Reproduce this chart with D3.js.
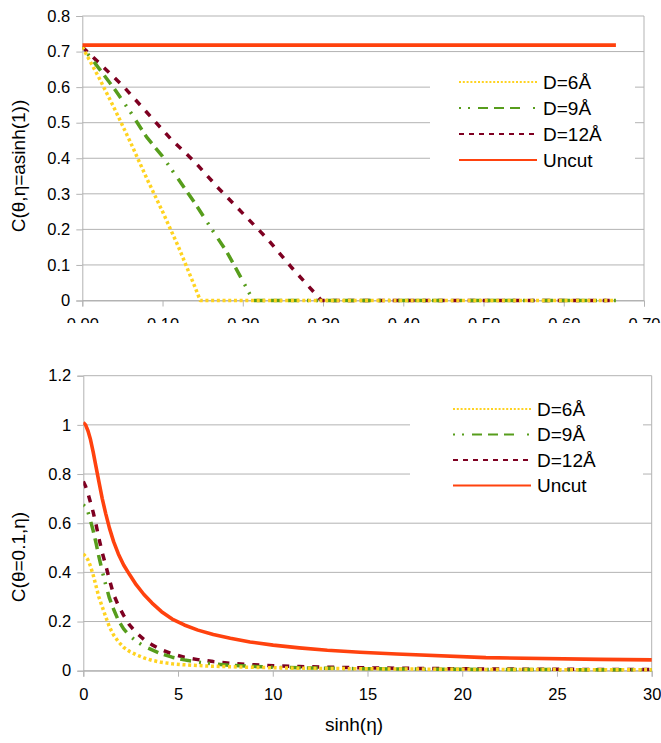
<!DOCTYPE html>
<html>
<head>
<meta charset="utf-8">
<script src="https://cdn.jsdelivr.net/npm/d3@7"></script>
<style>
  body { margin: 0; background: #fff; }
  text { font-family: "Liberation Sans", Arial, sans-serif; fill: #000; }
</style>
</head>
<body>
<script>
// series names and colours (same for both panels)
const names = ["D=6Å", "D=9Å", "D=12Å", "Uncut"];
const colors = ["#ffd320", "#579d1c", "#7e0021", "#ff420e"];

// top panel: C(theta, eta=asinh(1)) against theta
const topD6x  = [0, 0.02, 0.04, 0.06, 0.08, 0.10, 0.12, 0.14, 0.147, 0.665];
const topD6y  = [0.713, 0.63, 0.54, 0.445, 0.345, 0.25, 0.15, 0.04, 0, 0];
const topD9x  = [0, 0.02, 0.04, 0.06, 0.08, 0.10, 0.12, 0.14, 0.16, 0.18, 0.20, 0.213, 0.665];
const topD9y  = [0.713, 0.655, 0.595, 0.53, 0.46, 0.405, 0.34, 0.275, 0.205, 0.137, 0.055, 0, 0];
const topD12x = [0, 0.02, 0.05, 0.08, 0.11, 0.14, 0.17, 0.20, 0.23, 0.26, 0.28, 0.298, 0.665];
const topD12y = [0.713, 0.67, 0.605, 0.53, 0.455, 0.39, 0.315, 0.245, 0.175, 0.095, 0.045, 0, 0];
const topUncutx = [0, 0.665];
const topUncuty = [0.718, 0.718];
const topXTicks = [0, 0.1, 0.2, 0.3, 0.4, 0.5, 0.6, 0.7];
const topYTicks = [0, 0.1, 0.2, 0.3, 0.4, 0.5, 0.6, 0.7, 0.8];

// bottom panel: C(theta=0.1, eta) against sinh(eta)
const botX     = [0, 0.12, 0.25, 0.38, 0.52, 0.67, 0.82, 1.0, 1.18, 1.38, 1.6, 1.85, 2.13, 2.45, 2.79, 3.2,
                  3.63, 4.13, 4.69, 5.33, 6.05, 6.86, 7.76, 8.8, 10.02, 11.4, 12.88, 14.6, 16.54, 21.25, 27.29, 35.03];
const botD6    = [0.475, 0.465, 0.45, 0.425, 0.39, 0.345, 0.30, 0.26, 0.22, 0.178, 0.145, 0.118, 0.095, 0.078, 0.065, 0.052,
                  0.042, 0.034, 0.028, 0.024, 0.021, 0.018, 0.016, 0.014, 0.012, 0.01, 0.009, 0.008, 0.007, 0.005, 0.004, 0.003];
const botD9    = [0.675, 0.665, 0.645, 0.61, 0.57, 0.52, 0.465, 0.405, 0.35, 0.295, 0.25, 0.205, 0.17, 0.142, 0.12, 0.1,
                  0.085, 0.068, 0.055, 0.044, 0.035, 0.028, 0.022, 0.018, 0.014, 0.012, 0.01, 0.008, 0.007, 0.005, 0.004, 0.003];
const botD12   = [0.77, 0.75, 0.72, 0.685, 0.645, 0.595, 0.54, 0.48, 0.43, 0.37, 0.31, 0.265, 0.225, 0.185, 0.155, 0.127,
                  0.105, 0.085, 0.068, 0.055, 0.045, 0.037, 0.03, 0.025, 0.02, 0.017, 0.014, 0.012, 0.01, 0.007, 0.005, 0.004];
const botUncut = [1.01, 1.0, 0.975, 0.94, 0.89, 0.83, 0.77, 0.70, 0.64, 0.58, 0.525, 0.475, 0.43, 0.39, 0.35, 0.31,
                  0.275, 0.24, 0.21, 0.186, 0.165, 0.147, 0.132, 0.117, 0.104, 0.093, 0.083, 0.075, 0.068, 0.053, 0.046, 0.04];
const botXTicks = [0, 5, 10, 15, 20, 25, 30];
const botYTicks = [0, 0.2, 0.4, 0.6, 0.8, 1, 1.2];

// line looks
const lineDash   = ["3,2.7", "2,7,2,8,11,6,11,6,11,8", "7,8", null];
const legendDash = ["2,1.8", "2,7,2,8,10,6,10,6,10,13", "5,5", null];
const grid = "#b3b3b3";

const svg = d3.select("body").append("svg")
  .attr("width", 661).attr("height", 743);

const defs = svg.append("defs");
defs.append("clipPath").attr("id", "topClip")
  .append("rect").attr("x", 0).attr("y", 0).attr("width", 661).attr("height", 323);

let zip = (xs, ys) => xs.map((x, i) => [x, ys[i]]);

let drawPanel = (g, opt) => {
  let x = d3.scaleLinear().domain(opt.xDomain).range(opt.xRange);
  let y = d3.scaleLinear().domain(opt.yDomain).range(opt.yRange);

  // horizontal grid lines
  g.append("g").selectAll("line").data(opt.yTicks).join("line")
    .attr("x1", opt.xRange[0]).attr("x2", opt.xRange[1])
    .attr("y1", d => y(d)).attr("y2", d => y(d))
    .attr("stroke", grid).attr("stroke-width", 1);

  // right border
  g.append("line")
    .attr("x1", opt.xRange[1]).attr("x2", opt.xRange[1])
    .attr("y1", opt.yRange[0]).attr("y2", opt.yRange[1])
    .attr("stroke", grid);

  let yAxis = g.append("g")
    .attr("transform", `translate(${opt.xRange[0]},0)`)
    .call(d3.axisLeft(y).tickValues(opt.yTicks).tickFormat(opt.yFormat).tickSize(6).tickPadding(6));
  let xAxis = g.append("g")
    .attr("transform", `translate(0,${opt.yRange[0]})`)
    .call(d3.axisBottom(x).tickValues(opt.xTicks).tickFormat(opt.xFormat).tickSize(6).tickPadding(opt.xPad));
  [yAxis, xAxis].forEach(a => {
    a.select(".domain").attr("stroke", grid);
    a.selectAll(".tick line").attr("stroke", grid);
    a.selectAll(".tick text").attr("font-size", "16.5px").attr("fill", "#000")
      .attr("font-family", '"Liberation Sans", Arial, sans-serif');
  });

  // legend box
  let lg = opt.legend;
  g.append("rect")
    .attr("x", lg.bx).attr("y", lg.by).attr("width", lg.bw).attr("height", lg.bh)
    .attr("fill", "#fff");

  // data lines
  defs.append("clipPath").attr("id", opt.id + "Plot")
    .append("rect")
    .attr("x", opt.xRange[0]).attr("y", opt.yRange[1] - 5)
    .attr("width", opt.xRange[1] - opt.xRange[0]).attr("height", opt.yRange[0] - opt.yRange[1] + 10);
  let line = d3.line().x(d => x(d[0])).y(d => y(d[1]));
  let plot = g.append("g").attr("clip-path", `url(#${opt.id}Plot)`);
  [2, 1, 0, 3].forEach(i => {
    plot.append("path")
      .attr("d", line(opt.series[i]))
      .attr("fill", "none")
      .attr("stroke", colors[i])
      .attr("stroke-width", i == 3 ? 3.6 : 3.5)
      .attr("stroke-linejoin", "round")
      .attr("stroke-dasharray", lineDash[i]);
  });

  names.forEach((n, i) => {
    let yy = lg.y0 + i * lg.dy;
    g.append("line")
      .attr("x1", lg.x0).attr("x2", lg.x0 + 78)
      .attr("y1", yy).attr("y2", yy)
      .attr("stroke", colors[i]).attr("stroke-width", 2)
      .attr("stroke-dasharray", legendDash[i]);
    g.append("text")
      .attr("x", lg.x0 + 84).attr("y", yy + 6.5)
      .attr("font-size", "19px")
      .text(n);
  });

  g.append("text")
    .attr("transform", `translate(${opt.yLabelPos[0]},${opt.yLabelPos[1]}) rotate(-90)`)
    .attr("text-anchor", "middle")
    .attr("font-size", "19px")
    .text(opt.yLabel);
};

let topG = svg.append("g").attr("clip-path", "url(#topClip)");
drawPanel(topG, {
  id: "top",
  xDomain: [0, 0.7], xRange: [82.3, 644],
  yDomain: [0, 0.8], yRange: [300.5, 16],
  xTicks: topXTicks, yTicks: topYTicks,
  xFormat: d3.format(".2f"), yFormat: d => String(d),
  xPad: 12,
  series: [zip(topD6x, topD6y), zip(topD9x, topD9y), zip(topD12x, topD12y), zip(topUncutx, topUncuty)],
  legend: { bx: 430, by: 63, bw: 205, bh: 118, x0: 459, y0: 82, dy: 26 },
  yLabel: "C(θ,η=asinh(1))", yLabelPos: [25, 166]
});

let botG = svg.append("g");
drawPanel(botG, {
  id: "bot",
  xDomain: [0, 30], xRange: [83.3, 651.7],
  yDomain: [0, 1.2], yRange: [670.7, 375.7],
  xTicks: botXTicks, yTicks: botYTicks,
  xFormat: d => String(d), yFormat: d => String(d),
  xPad: 11.5,
  series: [zip(botX, botD6), zip(botX, botD9), zip(botX, botD12), zip(botX, botUncut)],
  legend: { bx: 410, by: 388, bw: 233, bh: 116, x0: 453, y0: 409, dy: 25.5 },
  yLabel: "C(θ=0.1,η)", yLabelPos: [25, 557]
});

svg.append("text")
  .attr("x", 354).attr("y", 731)
  .attr("text-anchor", "middle")
  .attr("font-size", "19px")
  .text("sinh(η)");
</script>
</body>
</html>
